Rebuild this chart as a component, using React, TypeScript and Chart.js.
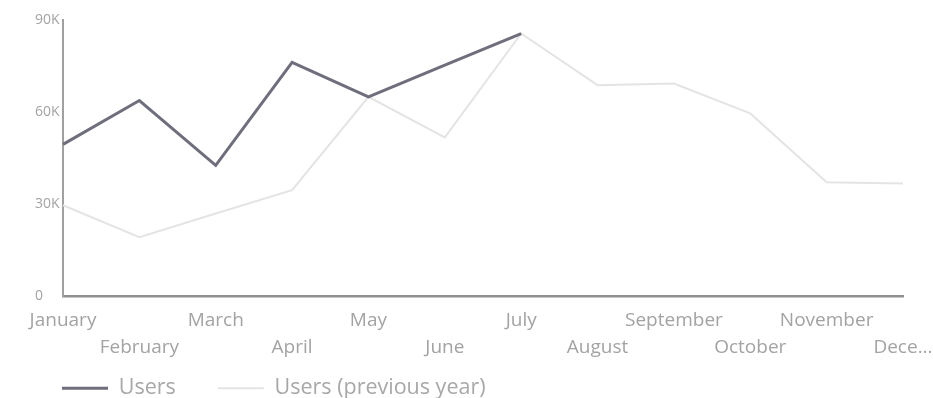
import React, { useEffect, useRef } from 'react';
import { Chart, registerables } from 'chart.js';

Chart.register(...registerables);

const months = ['January', 'February', 'March', 'April', 'May', 'June', 'July', 'August', 'September', 'October', 'November', 'December'];
const xTickLabels = ['January', 'February', 'March', 'April', 'May', 'June', 'July', 'August', 'September', 'October', 'November', 'Dece...'];
const users = [49500, 63800, 42700, 76200, 65000, 75300, 85600];
const usersPrevYear = [29700, 19300, 27000, 34600, 65000, 51800, 85600, 68800, 69300, 59600, 37200, 36800];
const yTicks = [0, 30000, 60000, 90000];
const yTickLabels = ['0', '30K', '60K', '90K'];
const seriesNames = ['Users', 'Users (previous year)'];

const FONT = "'Open Sans', sans-serif";

export default function App() {
  const ref = useRef<HTMLCanvasElement | null>(null);
  useEffect(() => {
    if (!ref.current) return;
    const nudge = {
      id: 'nudge',
      afterLayout(chart: any) {
        const y = chart.scales.y;
        if (y) y.left = 35;
        const x = chart.scales.x;
        if (x) x.bottom = chart.height;
      },
    };
    const chart = new Chart(ref.current, {
      type: 'line',
      data: {
        labels: months,
        datasets: [
          {
            label: seriesNames[0],
            data: users,
            borderColor: '#6e6e7c',
            backgroundColor: '#6e6e7c',
            borderWidth: 3,
            pointRadius: 0,
            tension: 0,
          },
          {
            label: seriesNames[1],
            data: usersPrevYear,
            borderColor: '#e4e4e4',
            backgroundColor: '#e4e4e4',
            borderWidth: 2,
            pointRadius: 0,
            tension: 0,
          },
        ],
      },
      options: {
        animation: false,
        responsive: false,
        maintainAspectRatio: false,
        layout: { padding: { left: 20, right: 30, top: 20, bottom: -11 } },
        plugins: {
          tooltip: { enabled: false },
          legend: {
            position: 'bottom',
            align: 'start',
            labels: {
              usePointStyle: true,
              pointStyle: 'line',
              pointStyleWidth: 46,
              boxHeight: 4,
              padding: 42,
              color: '#a8a8a8',
              font: { family: FONT, size: 21.5 },
            },
          },
        },
        scales: {
          x: {
            type: 'category',
            offset: false,
            grid: { display: false, drawTicks: false },
            border: { display: true, color: '#8f8f8f', width: 2.5 },
            afterFit: (s: any) => { s.height = 39; s.paddingRight = 0; s.paddingLeft = 0; },
            ticks: {
              autoSkip: false,
              maxRotation: 0,
              minRotation: 0,
              padding: 11,
              color: '#a3a3a3',
              font: { family: FONT, size: 19, lineHeight: 1.42 },
              callback: (_v: any, i: number) => (i % 2 === 0 ? xTickLabels[i] : ['', xTickLabels[i]]),
            },
          },
          y: {
            min: 0,
            max: 90000,
            grid: { display: false, drawTicks: false },
            border: { display: true, color: '#a0a0a0', width: 2 },
            afterFit: (s: any) => { s.width = 43; },
            ticks: {
              stepSize: 30000,
              crossAlign: 'far',
              color: '#a3a3a3',
              font: { family: FONT, size: 14 },
              callback: (v: any) => {
                const k = yTicks.indexOf(Number(v));
                return k >= 0 ? yTickLabels[k] : '';
              },
            },
          },
        },
      },
      plugins: [nudge],
    } as any);
    return () => chart.destroy();
  }, []);
  return (
    <div style={{ position: 'fixed', left: 0, top: 0, width: 933, height: 398, background: '#fff' }}>
      <canvas ref={ref} width={933} height={398} style={{ width: 933, height: 398, display: 'block' }} />
    </div>
  );
}
